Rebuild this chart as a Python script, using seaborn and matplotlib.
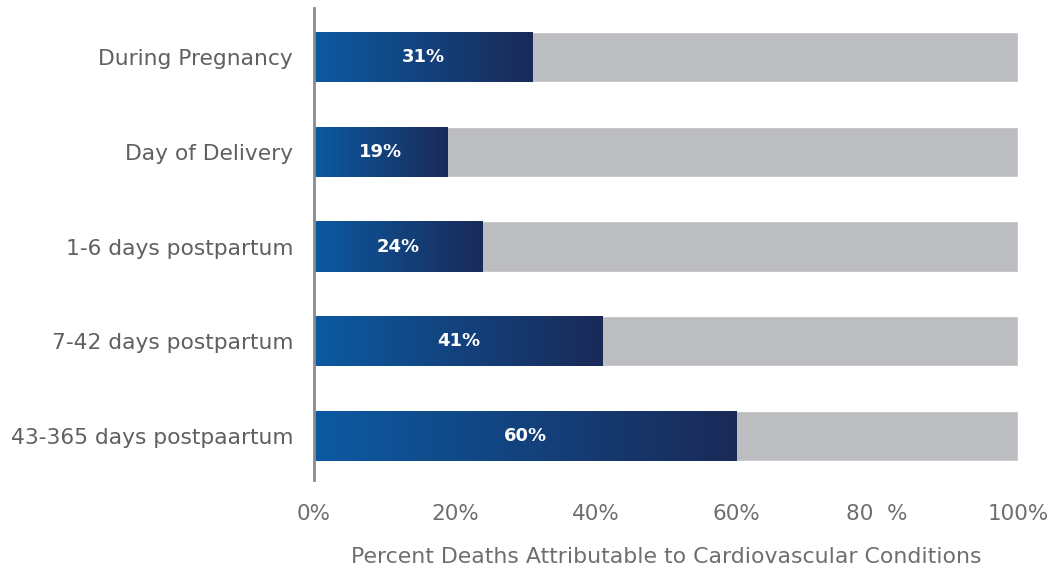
import numpy as np
import pandas as pd
import matplotlib
matplotlib.use("Agg")
import matplotlib.pyplot as plt
import seaborn as sns
from matplotlib.colors import LinearSegmentedColormap

categories = ["During Pregnancy", "Day of Delivery", "1-6 days postpartum",
              "7-42 days postpartum", "43-365 days postpaartum"]
values = [31, 19, 24, 41, 60]
totals = [100, 100, 100, 100, 100]
tick_values = [0, 20, 40, 60, 80, 100]
tick_labels = ["0%", "20%", "40%", "60%", "80  %", "100%"]
xlabel = "Percent Deaths Attributable to Cardiovascular Conditions"

sns.set_theme(style="white")
plt.rcParams["font.family"] = ["DejaVu Sans"]

df = pd.DataFrame({"cat": categories, "val": values, "tot": totals})

fig = plt.figure(figsize=(10.52, 5.71), dpi=100)
ax = fig.add_axes([314/1052, 1-480/571, (1018-314)/1052, (480-8)/571])

sns.barplot(data=df, y="cat", x="tot", color="#bcbdc0", width=0.53,
            saturation=1, ax=ax, orient="h")
n_bg = len(ax.patches)
sns.barplot(data=df, y="cat", x="val", color="#1b4f8f", width=0.53,
            saturation=1, ax=ax, orient="h")
fg = ax.patches[n_bg:]

cmap = LinearSegmentedColormap.from_list("g", ["#0c5aa2", "#1a2a58"])
grad = np.linspace(0, 1, 256).reshape(1, -1)
for p, v in zip(fg, values):
    x0, y0 = p.get_x(), p.get_y()
    w, h = p.get_width(), p.get_height()
    p.set_facecolor("none")
    p.set_edgecolor("none")
    im = ax.imshow(grad, cmap=cmap, aspect="auto",
                   extent=[x0, x0 + w, y0 + h, y0], zorder=2)
    im.set_clip_path(p)
    ax.text(x0 + w / 2, y0 + h / 2, f"{v}%", color="white", fontsize=13,
            fontweight="bold", ha="center", va="center", zorder=3)

ax.set_xlim(0, 100)
ax.set_ylim(4.464, -0.517)
ax.set_xticks(tick_values)
ax.set_xticklabels(tick_labels, fontsize=15.5, color="#6d6e71")
ax.tick_params(axis="y", labelsize=15.7, labelcolor="#5f6062", length=0, pad=15)
ax.tick_params(axis="x", length=0, pad=17)
ax.set_ylabel("")
ax.set_xlabel(xlabel, fontsize=15.8, color="#6d6e71", labelpad=17)
for s in ["top", "right", "bottom"]:
    ax.spines[s].set_visible(False)
ax.spines["left"].set_color("#8a8b8d")
ax.spines["left"].set_linewidth(2)
ax.grid(False)

fig.savefig("out.png", dpi=100)
